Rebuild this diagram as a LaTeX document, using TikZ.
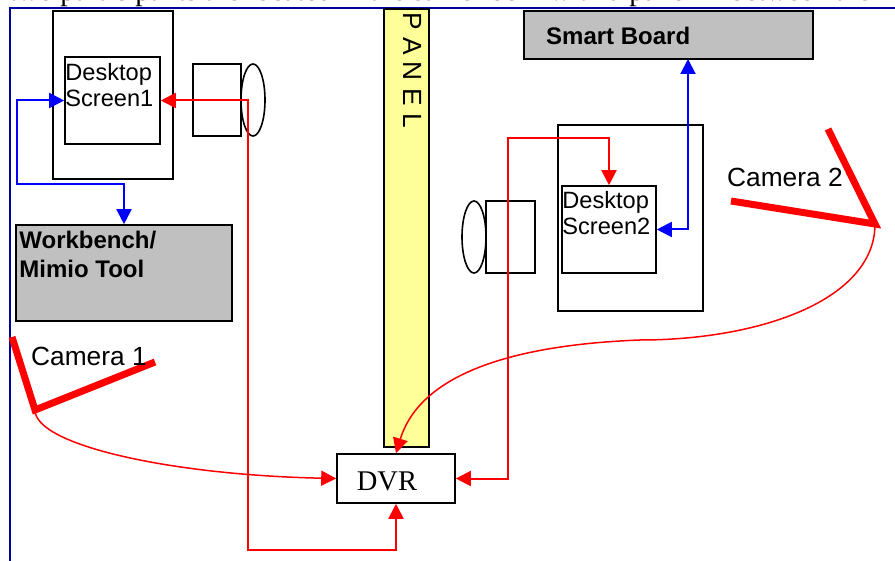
\documentclass[tikz,border=0pt]{standalone}
\usepackage{fontspec}
\setmainfont{Liberation Serif}
\setsansfont{Liberation Sans}
\usetikzlibrary{arrows.meta,positioning,shapes.geometric}
\definecolor{framecol}{RGB}{0,0,160}
\definecolor{panelcol}{RGB}{255,255,153}
\definecolor{boardcol}{RGB}{192,192,192}
\tikzset{
	>={Triangle[length=15pt,width=15pt]},
	box/.style={draw,line width=1.6pt,inner sep=0pt},
	graybox/.style={box,fill=boardcol},
	caption/.style={font=\sffamily\fontsize{23.6}{26}\selectfont,align=left,inner sep=0pt},
	boldcaption/.style={font=\sffamily\bfseries\fontsize{24}{29}\selectfont,align=left,inner sep=0pt},
	camcaption/.style={font=\sffamily\fontsize{26.3}{30}\selectfont,inner sep=0pt},
	redwire/.style={draw=red,line width=2pt},
	bluewire/.style={draw=blue,line width=2pt},
	camwire/.style={draw=red,line width=1.5pt},
	rig/.style={draw=red,line width=7pt},
	lens/.style={draw,line width=1.6pt,ellipse,minimum width=24pt,minimum height=72pt,inner sep=0pt},
}
\begin{document}
\begin{tikzpicture}[x=1pt,y=-1pt]
	\useasboundingbox (0,0) rectangle (895,561);
	% page text and frame
	\begin{scope}
		\clip (0,0) rectangle (895,7);
		\node[anchor=base west,inner sep=0pt,font=\fontsize{29.3}{32}\selectfont] (line) at (9,0.5) {two participants are located in the same room with a panel in between them.};
	\end{scope}
	\coordinate (framea) at (10,561);
	\coordinate (frameb) at (10,8);
	\coordinate (framec) at (895,8);
	\draw[framecol,line width=1.5pt] (framea) -- (frameb) -- (framec);

	% first desk
	\node[box,minimum width=120pt,minimum height=168pt] (desk1) at (113,95) {};
	\node[box,minimum width=95pt,minimum height=87pt] (screen1) at (112.5,100.5) {};
	\node[caption,below right=7pt and 1pt of screen1.north west] (text1) {Desktop\\Screen1};
	\node[box,minimum width=48pt,minimum height=72pt] (body1) at (217,100) {};
	\node[lens] (lens1) at (253,100) {};
	\node[graybox,minimum width=216pt,minimum height=96pt] (bench) at (124,273) {};
	\node[boldcaption,below right=7pt and 4pt of bench.north west] (benchtext) {Workbench/\\Mimio Tool};

	% panel
	\node[box,fill=panelcol,minimum width=45pt,minimum height=438pt] (panel) at (406.5,228) {};
	\node[camcaption,rotate=-90,anchor=west] (paneltext) at (413,12) {P A N E L};

	% second desk
	\node[graybox,minimum width=289pt,minimum height=48pt] (board) at (668.5,35) {};
	\node[font=\sffamily\bfseries\fontsize{24}{28}\selectfont,anchor=west,inner sep=0pt] (boardtext) at (546,36) {Smart Board};
	\node[box,minimum width=145pt,minimum height=186pt] (desk2) at (630.5,218) {};
	\node[box,minimum width=94pt,minimum height=87pt] (screen2) at (609,229.5) {};
	\node[caption,below right=6pt and 1pt of screen2.north west] (text2) {Desktop\\Screen2};
	\node[box,minimum width=49pt,minimum height=72pt] (body2) at (510.5,237) {};
	\node[lens] (lens2) at (474,237) {};

	% recorder
	\node[box,minimum width=118pt,minimum height=49pt,font=\fontsize{28.5}{32}\selectfont,text height=23pt,text depth=0pt] (dvr) at (396,478.5) {\hspace{-18pt}DVR};

	% cameras
	\coordinate (cam1a) at (12,337);
	\coordinate (cam1b) at (35,410);
	\coordinate (cam1c) at (155,362);
	\coordinate (cam2a) at (828,129);
	\coordinate (cam2b) at (875,224);
	\coordinate (cam2c) at (731,201);
	\draw[rig] (cam1a) -- (cam1b) -- (cam1c);
	\draw[rig] (cam2a) -- (cam2b) -- (cam2c);
	\node[camcaption,anchor=base west] (camtext1) at (31,366) {Camera 1};
	\node[camcaption,anchor=base west] (camtext2) at (727,187) {Camera 2};

	% wiring
	\coordinate (boardin) at (688,59);
	\coordinate (turn1) at (248,550);
	\coordinate (turn2) at (508,138);
	\coordinate (bend2) at (640,340);
	\path[bluewire,<->] (screen1.west) -| ++(-47,84) -| (bench.north);
	\path[bluewire,<->] (screen2.east) -| (boardin);
	\path[redwire,<->] (dvr.south) |- (turn1) |- (screen1.east);
	\path[redwire,<->] (dvr.east) -| (turn2) -| (screen2.north);
	\path[camwire,->] (cam1b) .. controls (35,445) and (170,475) .. (dvr.west);
	\path[camwire,->] (cam2b) .. controls +(0,76) and (760,340) .. (bend2) .. controls (510,345) and (420,375) .. (dvr.north);
\end{tikzpicture}
\end{document}
